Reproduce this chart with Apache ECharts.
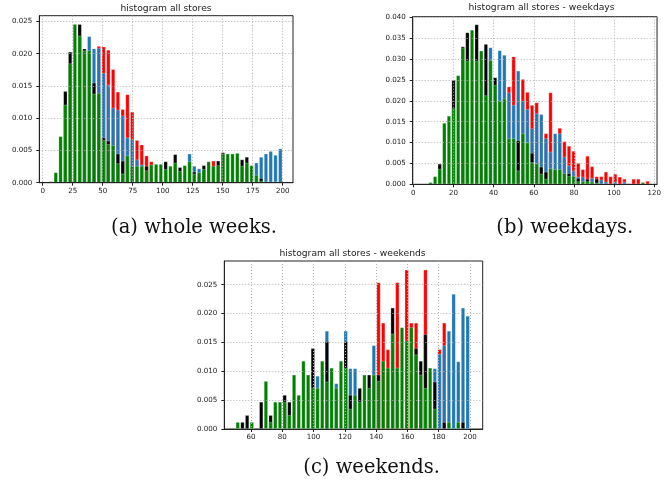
<!DOCTYPE html>
<html><head><meta charset="utf-8">
<script src="https://cdn.jsdelivr.net/npm/echarts@6/dist/echarts.min.js"></script>
<style>html,body{margin:0;padding:0;background:#fff}#c{width:664px;height:490px}</style>
</head><body><div id="c"></div>
<script>
// ---------- data ----------
// (a) whole weeks: bin centres
const aCenters = [2.99,6.97,10.95,14.93,18.91,22.89,26.87,30.85,34.83,38.81,
  42.79,46.77,50.75,54.73,58.71,62.69,66.67,70.65,74.63,78.61,
  82.59,86.57,90.55,94.53,98.51,102.49,106.47,110.45,114.43,118.41,
  122.39,126.37,130.35,134.33,138.31,142.29,146.27,150.25,154.23,158.21,
  162.19,166.17,170.15,174.13,178.11,182.09,186.07,190.05,194.03,198.01];
const aRed = [0,0,0,0,0,0,0,0,0,0, 0,0.0212,0.0211,0.0206,0.0176,0.0141,0.0114,0.0137,0.0110,0.0066,
  0.0059,0.0042,0.0033,0,0,0,0,0,0,0, 0,0,0,0,0,0.0034,0,0,0,0, 0,0,0,0,0,0,0,0,0,0];
const aBlue = [0,0,0,0,0,0,0,0,0,0.0227, 0.0208,0.0209,0.0170,0.0152,0.0116,0.0113,0.0104,0.0070,0.0067,0.0036,
  0.0028,0,0,0,0,0,0,0,0,0, 0.0045,0.0026,0.0022,0,0,0,0,0,0,0, 0,0,0,0,0.0031,0.0040,0.0045,0.0049,0.0043,0.0053];
const aBlack = [0,0,0,0,0.0142,0.0203,0,0.0246,0.0208,0, 0.0155,0,0.0070,0.0065,0,0.0045,0.0034,0,0,0,
  0,0.0026,0,0,0,0.0033,0,0.0044,0.0024,0, 0,0.0017,0,0.0027,0,0,0.0034,0.0047,0,0, 0,0.0036,0.0040,0,0,0.0007,0,0,0,0];
const aGreen = [0,0.0002,0.0016,0.0072,0.0121,0.0185,0.0246,0.0228,0.0205,0.0205,
  0.0138,0.0139,0.0066,0.0060,0.0058,0.0030,0.0014,0.0042,0.0026,0.0026,
  0.0026,0.0019,0.0028,0.0029,0.0029,0.0021,0.0026,0.0031,0.0018,0.0027,
  0.0033,0.0014,0.0016,0.0021,0.0033,0.0026,0.0027,0.0045,0.0045,0.0045,
  0.0046,0.0026,0.0031,0.0027,0.0012,0.0003,0.0002,0.0001,0.0002,0];
const aXTicks = [0,25,50,75,100,125,150,175,200];
const aYTicks = [0,0.005,0.010,0.015,0.020,0.025];

// (b) weekdays
const bCenters = [8.55,10.85,13.15,15.45,17.75,20.05,22.35,24.65,26.95,29.25,
  31.55,33.85,36.15,38.45,40.75,43.05,45.35,47.65,49.95,52.25,
  54.55,56.85,59.15,61.45,63.75,66.05,68.35,70.65,72.95,75.25,
  77.55,79.85,82.15,84.45,86.75,89.05,91.35,93.65,95.95,98.25,
  100.55,102.85,105.15,107.45,109.75,112.05,114.35,116.65];
const bRed = [0,0,0,0,0,0,0,0,0,0, 0,0,0,0,0,0,0,0.0234,0.0306,0,
  0.0252,0.0221,0.0190,0.0196,0,0.0122,0.0220,0,0.0135,0.0103,
  0.0092,0.0080,0.0051,0.0036,0.0068,0.0043,0.0019,0.0019,0.0030,0.0019,
  0.0025,0.0018,0.0013,0,0.0013,0.0013,0,0.0008];
const bBlue = [0,0,0,0,0,0,0,0,0,0, 0,0,0,0.0328,0,0.0321,0.0310,0.0220,0.0190,0.0272,
  0.0200,0.0180,0.0134,0.0170,0.0168,0.0110,0.0078,0.0122,0.0122,0.0066,
  0.0045,0.0032,0.0018,0.0018,0,0.0015,0,0.0011,0.0006,0, 0.0006,0,0.0006,0,0,0,0,0];
const bBlack = [0,0,0.0049,0,0,0.0250,0,0.0330,0.0364,0, 0.0383,0,0.0336,0,0.0256,0,0,0,0,0.0105,
  0,0,0.0075,0,0.0042,0.0030,0,0.0032,0,0, 0.0026,0,0.0015,0,0.0013,0,0.0013,0,0,0, 0,0,0,0,0,0,0,0];
const bGreen = [0.0005,0.0019,0.0037,0.0147,0.0164,0.0182,0.0261,0.0327,0.0296,0.0370,
  0.0296,0.0320,0.0213,0.0297,0.0238,0.0200,0.0205,0.0110,0.0110,0.0033,
  0.0122,0.0100,0.0053,0.0050,0.0025,0.0013,0.0038,0.0036,0.0036,0.0027,
  0.0020,0.0020,0.0007,0.0007,0.0007,0.0006,0.0004,0,0,0, 0,0,0,0,0,0,0.0005,0];
const bXTicks = [0,20,40,60,80,100,120];
const bYTicks = [0,0.005,0.010,0.015,0.020,0.025,0.030,0.035,0.040];

// (c) weekends
const cCenters = [51.5,54.5,57.5,60.5,63.5,66.5,69.5,72.5,75.5,78.5,
  81.5,84.5,87.5,90.5,93.5,96.5,99.5,102.5,105.5,108.5,
  111.5,114.5,117.5,120.5,123.5,126.5,129.5,132.5,135.5,138.5,
  141.5,144.5,147.5,150.5,153.5,156.5,159.5,162.5,165.5,168.5,
  171.5,174.5,177.5,180.5,183.5,186.5,189.5,192.5,195.5,198.5];
const cRed = [0,0,0,0,0,0,0,0,0,0, 0,0,0,0,0,0,0,0,0,0, 0,0,0,0,0,0,0,0,0,0,
  0.0254,0.0184,0.0138,0,0.0254,0,0.0276,0.0184,0.0184,0,
  0.0276,0,0,0.0138,0.0184,0,0,0,0,0];
const cBlue = [0,0,0,0,0,0,0,0,0,0, 0,0,0,0,0,0,0,0.0092,0,0.0170,
  0,0.0079,0,0.0170,0.0105,0.0105,0,0,0,0.0145, 0,0,0,0,0,0,0,0,0,0,
  0,0,0.0105,0.0130,0.0145,0.0170,0.0234,0.0117,0.0210,0.0196];
const cBlack = [0,0.0012,0.0024,0,0,0.0047,0,0.0024,0,0, 0.0059,0.0047,0,0,0,0,0.0140,0,0,0.0152,
  0,0,0,0.0152,0.0059,0,0.0071,0,0.0094,0, 0.0094,0,0,0.0210,0,0,0,0,0.0140,0.0118,
  0.0164,0,0.0082,0,0.0012,0,0,0,0.0012,0];
const cGreen = [0.0012,0,0,0.0012,0,0,0.0083,0.0012,0.0047,0.0047,
  0.0047,0.0024,0.0094,0.0059,0.0118,0.0094,0.0071,0.0071,0.0118,0.0082,
  0.0106,0.0071,0.0118,0.0106,0.0035,0.0059,0.0047,0.0094,0.0071,0.0094,
  0.0083,0.0118,0.0106,0.0165,0.0106,0.0176,0.0153,0.0176,0.0129,0.0094,
  0.0071,0.0106,0.0035,0,0,0.0012,0,0.0012,0,0];
const cXTicks = [60,80,100,120,140,160,180,200];
const cYTicks = [0,0.005,0.010,0.015,0.020,0.025];

const titles = ['histogram all stores','histogram all stores - weekdays','histogram all stores - weekends'];
const captions = ['(a) whole weeks.','(b) weekdays.','(c) weekends.'];

// ---------- build ----------
const colors = ['#ff0000','#1f77b4','#000000','#008000'];
const panels = [
  {centers:aCenters, vals:[aRed,aBlue,aBlack,aGreen], xt:aXTicks, yt:aYTicks,
   grid:{left:39.3, top:15.7, width:253.7, height:167}, xmin:-2.8, xmax:208.6, ymax:0.0259,
   title:{x:166, y:8.5}, cap:{x:194, y:228}},
  {centers:bCenters, vals:[bRed,bBlue,bBlack,bGreen], xt:bXTicks, yt:bYTicks,
   grid:{left:412.7, top:16.7, width:250.5, height:167.6}, xmin:-0.3, xmax:121.4, ymax:0.04015,
   title:{x:541.5, y:8}, cap:{x:564.7, y:228}},
  {centers:cCenters, vals:[cRed,cBlue,cBlack,cGreen], xt:cXTicks, yt:cYTicks,
   grid:{left:224.3, top:261, width:258.4, height:168}, xmin:42.9, xmax:208.1, ymax:0.0291,
   title:{x:352.5, y:254}, cap:{x:371.7, y:468}}
];
const grids=[], xAxes=[], yAxes=[], series=[], graphics=[];
const tickFont = {fontSize:7.1, color:'#222', fontFamily:'DejaVu Sans'};
const gridLine = {show:true, lineStyle:{color:'#b0b0b0', width:1, type:[1,2]}};
panels.forEach((p, gi) => {
  grids.push(Object.assign({show:true, borderColor:'#222', borderWidth:1, backgroundColor:'transparent'}, p.grid));
  xAxes.push({gridIndex:gi, type:'value', min:p.xmin, max:p.xmax, z:3,
    axisLine:{show:true, onZero:false, lineStyle:{color:'#222', width:1}},
    axisTick:{show:true, customValues:p.xt, length:3, lineStyle:{color:'#222'}},
    axisLabel:Object.assign({customValues:p.xt, margin:5}, tickFont),
    splitLine:gridLine});
  yAxes.push({gridIndex:gi, type:'value', min:0, max:p.ymax, z:3,
    axisLine:{show:true, onZero:false, lineStyle:{color:'#222', width:1}},
    axisTick:{show:true, customValues:p.yt, length:3, lineStyle:{color:'#222'}},
    axisLabel:Object.assign({customValues:p.yt, margin:7, formatter:v=>v.toFixed(3)}, tickFont),
    splitLine:gridLine});
  p.vals.forEach((arr, si) => {
    const data = [];
    arr.forEach((v, i) => { if (v > 0) data.push([p.centers[i], v]); });
    series.push({type:'bar', xAxisIndex:gi, yAxisIndex:gi, data:data, barWidth:4, barGap:'-100%',
      itemStyle:{color:colors[si], borderColor:'rgba(255,255,255,0.45)', borderWidth:0.6},
      silent:true, animation:false});
  });
  graphics.push({type:'text', x:p.title.x, y:p.title.y, silent:true,
    style:{text:titles[gi], fill:'#222', fontSize:9.2, fontFamily:'DejaVu Sans', align:'center', verticalAlign:'middle'}});
  graphics.push({type:'text', x:p.cap.x, y:p.cap.y, silent:true,
    style:{text:captions[gi], fill:'#111', fontSize:19.5, fontFamily:'DejaVu Serif', align:'center', verticalAlign:'middle'}});
});
const chart = echarts.init(document.getElementById('c'), null, {renderer:'canvas'});
chart.setOption({animation:false, grid:grids, xAxis:xAxes, yAxis:yAxes, series:series, graphic:graphics});
</script></body></html>
